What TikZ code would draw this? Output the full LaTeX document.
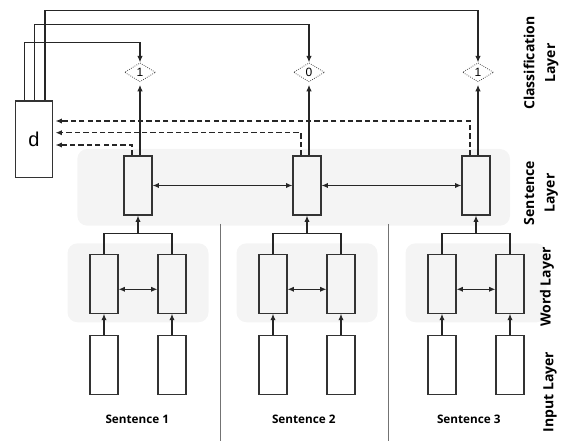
\documentclass[tikz,border=0pt]{standalone}
\usepackage{fontspec}
\setmainfont{Open Sans}
\newfontfamily\arialfont{Liberation Sans}
\usetikzlibrary{arrows.meta,shapes.geometric}

\begin{document}
\begin{tikzpicture}[x=0.75pt,y=-0.75pt,
  cell/.style={draw=black!80, line width=0.85pt, minimum width=21pt, minimum height=44.25pt, inner sep=0pt},
  inbox/.style={cell, fill=white},
  panel/.style={fill=gray!9, rounded corners=7.5pt},
  clsnode/.style={diamond, draw=black!70, densely dotted, line width=0.6pt, minimum width=23.25pt, minimum height=14.25pt, inner sep=0pt, font=\arialfont\fontsize{9}{9}\selectfont},
  arr/.style={draw=black!85, line width=0.85pt, -{Latex[length=4.8pt,width=4pt]}},
  biarr/.style={draw=black!85, line width=0.85pt, {Latex[length=4.8pt,width=4pt]}-{Latex[length=4.8pt,width=4pt]}},
  fbarr/.style={arr, dash pattern=on 4pt off 2.3pt, shorten >=2pt},
  sepline/.style={draw=black!55, line width=0.6pt},
  layertext/.style={rotate=90, align=center, font=\bfseries\fontsize{10.5}{15.5}\selectfont},
  senttext/.style={font=\bfseries\fontsize{8.8}{11}\selectfont}
]
  \useasboundingbox (0,0) rectangle (585,441);

  % sentence layer background
  \path[panel] (77.3,149) rectangle (510,225.7);
  \draw[sepline] (220,224) -- (220,441);
  \draw[sepline] (388,224) -- (388,441);

  \node[draw=black!80, line width=0.85pt, minimum width=27.5pt, minimum height=57.5pt, inner sep=0pt,
        font=\arialfont\fontsize{15}{15}\selectfont] (d) at (34,139.4) {d};

  \foreach \i/\cx/\lx/\dy/\lab in {1/138/137.3/145/1, 2/307/303.8/132.7/0, 3/476/468.8/121/1} {
    \path[panel] (\cx-70.5,243.3) rectangle (\cx+70.5,322.3);
    \node[cell] (s\i) at (\cx,185.5) {};
    \node[cell] (wl\i) at (\cx-34,283.7) {};
    \node[cell] (wr\i) at (\cx+34,283.7) {};
    \node[inbox] (il\i) at (\cx-34,365.3) {};
    \node[inbox] (ir\i) at (\cx+34,365.3) {};
    \node[clsnode] (c\i) at (\cx+2,72.3) {\lab};
    \node[senttext] (t\i) at (\lx,419.3) {Sentence \i};
    \coordinate (m\i) at (\cx,233.3);

    \draw[arr] (il\i.north) -- (wl\i.south);
    \draw[arr] (ir\i.north) -- (wr\i.south);
    \draw[biarr] ([yshift=-4.2pt]wl\i.east) -- ([yshift=-4.2pt]wr\i.west);
    \draw[draw=black!85, line width=0.85pt] (wl\i.north) |- (m\i) -| (wr\i.north);
    \draw[arr] (m\i) -- (s\i.south);
    \draw[arr, shorten >=2pt] ([xshift=1.5pt]s\i.north) -- (c\i.south);
    \draw[fbarr] ([xshift=-4.5pt]s\i.north) |- (d.east |- 0,\dy);
  }

  \draw[biarr] (s1.east) -- (s2.west);
  \draw[biarr] (s2.east) -- (s3.west);

  % outputs of d
  \draw[arr] ([xshift=-7.3pt]d.north) -- ++(0,-58.3) -| (c1.north);
  \draw[arr] ([xshift=0.5pt]d.north) -- ++(0,-75.7) -| (c2.north);
  \draw[arr] ([xshift=8.25pt]d.north) -- ++(0,-90) -| (c3.north);

  \node[layertext] (cl) at (541,63) {Classification\\Layer};
  \node[layertext] (sl) at (541,193) {Sentence\\Layer};
  \node[layertext] (wl) at (547,287) {Word Layer};
  \node[layertext] (inl) at (550,392) {Input Layer};
\end{tikzpicture}
\end{document}
